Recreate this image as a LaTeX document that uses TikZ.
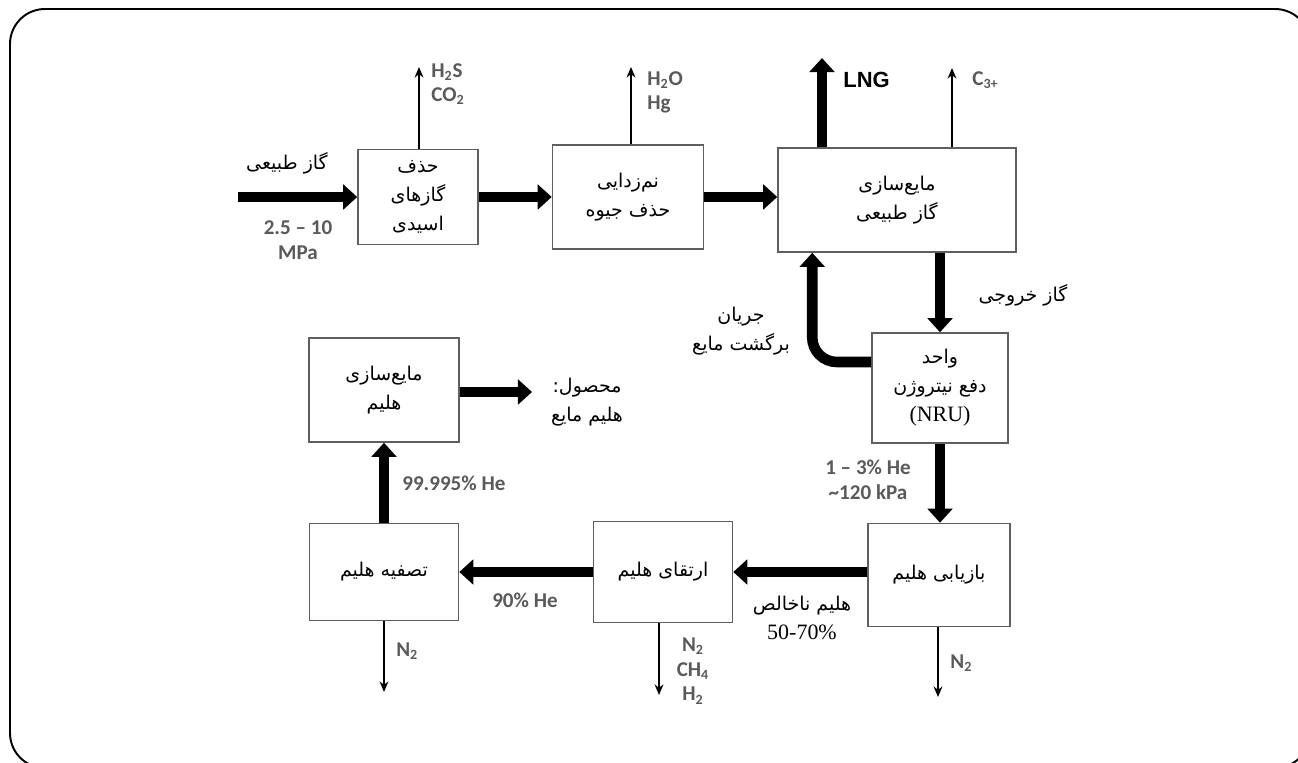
\documentclass[tikz,border=0pt]{standalone}
\usepackage{fontspec}
\setmainfont{Liberation Serif}
\newfontfamily\farsi[Script=Arabic]{DejaVu Sans}
\newfontfamily\engfont{Carlito}
\newfontfamily\arialfont{Liberation Sans}
\TeXXeTstate=1
\usetikzlibrary{arrows.meta, calc}
\definecolor{boxgray}{RGB}{95, 95, 95}
\definecolor{labelgray}{RGB}{90, 90, 90}
\newcommand{\fa}[1]{{\farsi\beginR #1\endR}}

\begin{document}
\begin{tikzpicture}[
      x=0.02cm, y=-0.02cm,
      unit/.style={rectangle, draw=boxgray, line width=0.9pt, fill=white, align=center, font=\fontsize{10.8}{16.5}\selectfont},
      fatext/.style={align=center, font=\fontsize{10.8}{16.5}\selectfont},
      gaslbl/.style={font=\engfont\bfseries\fontsize{12}{14}\selectfont, text=labelgray, align=center, inner sep=0pt},
      bigarr/.style={-{Triangle[width=14pt, length=8pt]}, line width=6pt},
      thinarr/.style={-{Stealth[width=5pt, length=6pt]}, line width=1.1pt}
    ]
      \useasboundingbox (0,0) rectangle (1298,763);
      \draw[rounded corners=0.7cm, line width=1.1pt] (10,9) rectangle (1310,768);

      % process units
      \node[unit, minimum width=2.4cm, minimum height=1.9cm] (acid) at (418,197) {\fa{حذف}\\\fa{گازهای}\\\fa{اسیدی}};
      \node[unit, minimum width=3.02cm, minimum height=2.08cm] (mercury) at (628,197) {\fa{نم‌زدایی}\\\fa{حذف جیوه}};
      \node[unit, minimum width=4.76cm, minimum height=2.08cm] (lng) at (897,200) {\fa{مایع‌سازی}\\\fa{گاز طبیعی}};
      \node[unit, minimum width=2.72cm, minimum height=2.2cm] (nru) at (940,388) {\fa{واحد}\\\fa{دفع نیتروژن}\\{\fontsize{12.5}{15}\selectfont (NRU)}};
      \node[unit, minimum width=2.84cm, minimum height=2.06cm] (recov) at (939,575) {\fa{بازیابی هلیم}};
      \node[unit, minimum width=2.78cm, minimum height=2.02cm] (upgr) at (663,572) {\fa{ارتقای هلیم}};
      \node[unit, minimum width=2.98cm, minimum height=1.94cm] (purif) at (384,572) {\fa{تصفیه هلیم}};
      \node[unit, minimum width=3.0cm, minimum height=2.08cm] (heliq) at (384,390) {\fa{مایع‌سازی}\\\fa{هلیم}};

      % free ends
      \coordinate (feed) at (238,197);
      \coordinate (acidout) at (419,67);
      \coordinate (hgout) at (631,67);
      \coordinate (lngout) at (822,58);
      \coordinate (c3out) at (952,68);
      \coordinate (product) at (532,392);
      \coordinate (n2a) at (384,692);
      \coordinate (n2b) at (659,695);
      \coordinate (n2c) at (938,697);

      % main flow
      \draw[bigarr] (feed) -- (feed -| acid.west);
      \draw[bigarr] (acid.east) -- (acid.east -| mercury.west);
      \draw[bigarr] (mercury.east) -- (mercury.east -| lng.west);
      \draw[bigarr] (lngout |- lng.north) -- (lngout);
      \draw[bigarr] (nru.north |- lng.south) -- (nru.north);
      \draw[bigarr, rounded corners=14pt] ($(nru.west)+(0,-26)$) -| ($(lng.south west)+(35,0)$);
      \draw[bigarr] (nru.south) -- (nru.south |- recov.north);
      \draw[bigarr] (recov.west |- upgr.east) -- (upgr.east);
      \draw[bigarr] (upgr.west) -- (purif.east);
      \draw[bigarr] (purif.north) -- (heliq.south);
      \draw[bigarr] (heliq.east |- product) -- (product);

      % side streams
      \draw[thinarr] (acidout |- acid.north) -- (acidout);
      \draw[thinarr] (hgout |- mercury.north) -- (hgout);
      \draw[thinarr] (c3out |- lng.north) -- (c3out);
      \draw[thinarr] (purif.south) -- (n2a);
      \draw[thinarr] (n2b |- upgr.south) -- (n2b);
      \draw[thinarr] (n2c |- recov.south) -- (n2c);

      % labels
      \node[fatext] (feedlbl) at (287,163) {\fa{گاز طبیعی}};
      \node[gaslbl] (feedp) at (298,240) {2.5 \textendash{} 10\\MPa};
      \node[gaslbl, anchor=north west, align=left] (acidgas) at (431,63) {H\textsubscript{2}S\\CO\textsubscript{2}};
      \node[gaslbl, anchor=north west, align=left] (hglbl) at (647,71) {H\textsubscript{2}O\\Hg};
      \node[font=\arialfont\bfseries\fontsize{12.5}{14}\selectfont, anchor=west, inner sep=0pt] (lnglbl) at (843,80) {LNG};
      \node[gaslbl, anchor=west] (c3lbl) at (972,80) {C\textsubscript{3+}};
      \node[fatext] (offgas) at (1023,295) {\fa{گاز خروجی}};
      \node[fatext] (reflux) at (741,331) {\fa{جریان}\\\fa{برگشت مایع}};
      \node[gaslbl] (nrulbl) at (868,480) {1 \textendash{} 3\% He\\\textasciitilde120 kPa};
      \node[fatext] (crude) at (802,618) {\fa{هلیم ناخالص}\\{\fontsize{12.5}{15}\selectfont 50-70\%}};
      \node[gaslbl] (upgrlbl) at (525,600) {90\% He};
      \node[gaslbl, anchor=west] (purelbl) at (402,483) {99.995\% He};
      \node[fatext] (prodlbl) at (587,402) {\fa{محصول:}\\\fa{هلیم مایع}};
      \node[gaslbl, anchor=west] (n2albl) at (396,651) {N\textsubscript{2}};
      \node[gaslbl] (n2blbl) at (693,671) {N\textsubscript{2}\\CH\textsubscript{4}\\H\textsubscript{2}};
      \node[gaslbl, anchor=west] (n2clbl) at (950,663) {N\textsubscript{2}};
    \end{tikzpicture}
\end{document}
